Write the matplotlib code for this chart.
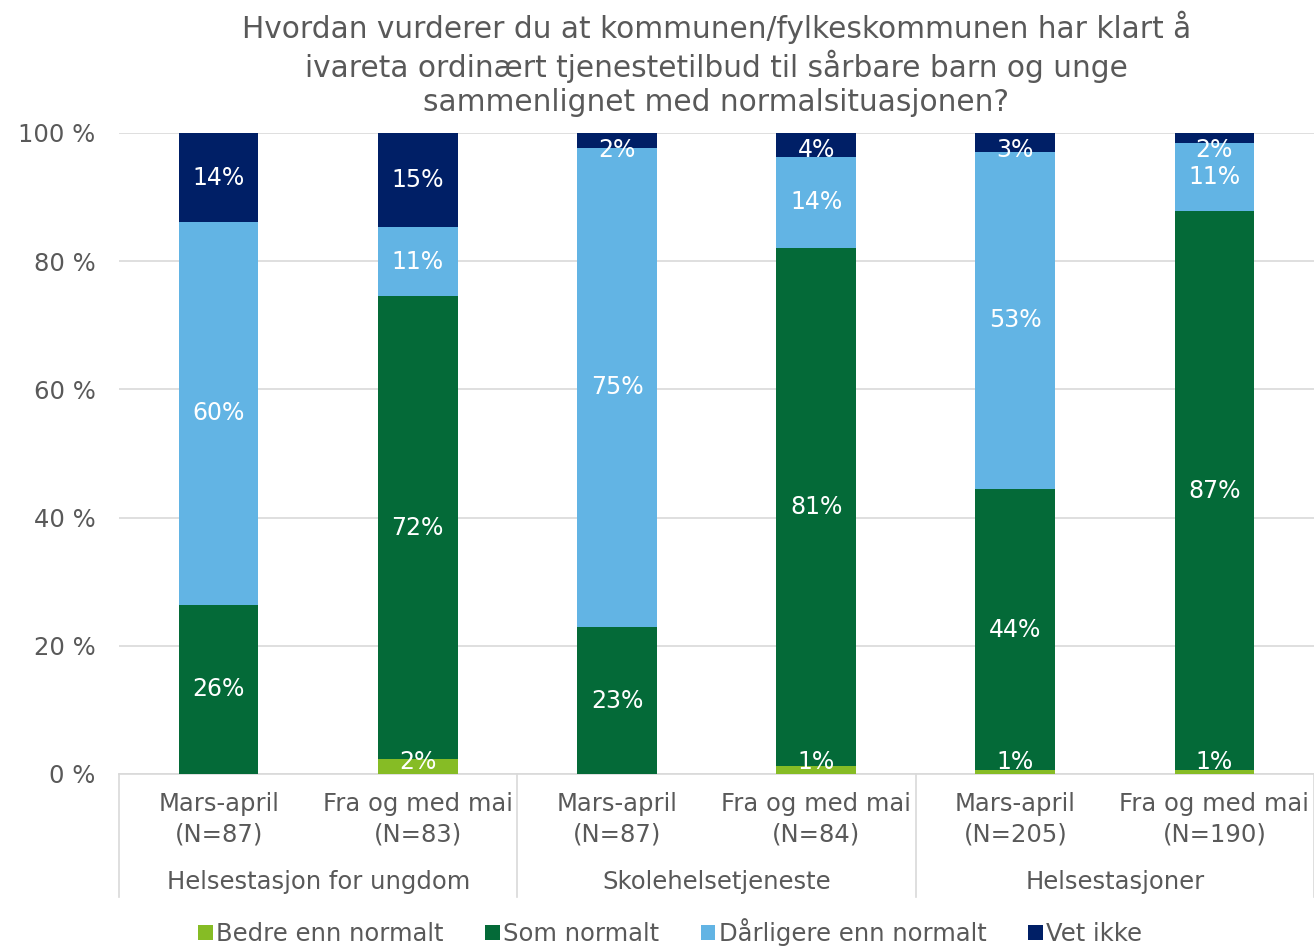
import numpy as np
import matplotlib.pyplot as plt
import matplotlib.transforms as mtransforms

groups = ['Helsestasjon for ungdom', 'Skolehelsetjeneste', 'Helsestasjoner']
periods = ['Mars-april\n(N=87)', 'Fra og med mai\n(N=83)',
           'Mars-april\n(N=87)', 'Fra og med mai\n(N=84)',
           'Mars-april\n(N=205)', 'Fra og med mai\n(N=190)']

series = ['Bedre enn normalt', 'Som normalt', 'Dårligere enn normalt', 'Vet ikke']
bedre = [0.0, 2.3, 0.0, 1.2, 0.6, 0.6]
som = [26.4, 72.3, 22.9, 80.9, 43.8, 87.2]
darligere = [59.7, 10.7, 74.8, 14.2, 52.7, 10.6]
vet_ikke = [13.9, 14.7, 2.3, 3.7, 2.9, 1.6]

colors = ['#86BC25', '#046A38', '#62B4E4', '#001F66']
grey = '#595959'

fig = plt.figure(figsize=(13.14, 9.5), dpi=100)
ax = fig.add_axes([0.0906, 0.1853, 0.9094, 0.6747])

x = np.arange(len(periods))
bottom = np.zeros(len(periods))
for name, vals, c in zip(series, [bedre, som, darligere, vet_ikke], colors):
    vals = np.array(vals)
    ax.bar(x, vals, 0.4, bottom=bottom, color=c, label=name, zorder=3)
    for xi, b, v in zip(x, bottom, vals):
        if v > 0:
            # keep labels inside the plot area like Excel does
            yl = min(max(b + v / 2, 1.9), 97.4)
            ax.text(xi, yl, f'{v:.0f}%', ha='center', va='center',
                    color='white', fontsize=17, zorder=4)
    bottom += vals

ax.set_xlim(-0.5, len(periods) - 0.5)
ax.set_ylim(0, 100)
ax.set_yticks(np.arange(0, 101, 20))
ax.set_yticklabels([f'{v} %' for v in range(0, 101, 20)])
ax.yaxis.grid(True, color='#D9D9D9', linewidth=1.2, zorder=0)
ax.set_axisbelow(True)
for s in ['top', 'right', 'left']:
    ax.spines[s].set_visible(False)
ax.spines['bottom'].set_color('#D9D9D9')
ax.spines['bottom'].set_linewidth(1.2)
ax.tick_params(axis='both', length=0, labelsize=17.5, labelcolor=grey)
ax.tick_params(axis='y', pad=17)
ax.set_xticks(x)
ax.set_xticklabels(periods, linespacing=1.35)
ax.tick_params(axis='x', pad=13)

# group labels and separators
trans = mtransforms.blended_transform_factory(ax.transData, ax.transAxes)
for i, g in enumerate(groups):
    ax.text(2 * i + 0.5, -0.168, g, transform=trans, ha='center', va='center',
            fontsize=17.5, color=grey)
for sx in [-0.5, 1.5, 3.5, 5.5]:
    ax.plot([sx, sx], [0, -0.192], transform=trans, color='#D9D9D9',
            linewidth=1.2, clip_on=False)

ax.set_title('Hvordan vurderer du at kommunen/fylkeskommunen har klart å\n'
             'ivareta ordinært tjenestetilbud til sårbare barn og unge\n'
             'sammenlignet med normalsituasjonen?',
             fontsize=21.3, color=grey, pad=16, linespacing=1.2)

fig.legend(loc='center', bbox_to_anchor=(0.51, 0.019), ncol=4, frameon=False,
           fontsize=17.5, labelcolor=grey, handlelength=0.6, handleheight=0.6,
           handletextpad=0.15, columnspacing=1.7)

fig.savefig('out.png', dpi=100)
